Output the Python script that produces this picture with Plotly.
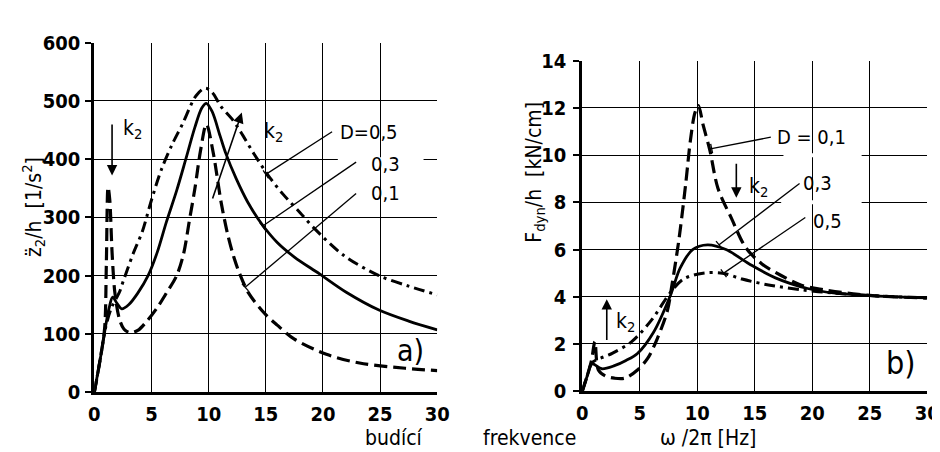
import plotly.graph_objects as go

# ---------------- data: panel a) acceleration z2''/h [1/s^2] ----------------
a_x_d01 = [0, 0.5, 0.9, 1.05, 1.2, 1.35, 1.55, 1.8, 2.2, 2.6, 3.1, 3.8, 4.6, 5.5, 6.3, 7.2, 7.8, 8.3, 8.8,
           9.3, 9.8, 10.4, 11.1, 11.7, 12.2, 12.7, 13.5, 14.9, 16.0, 17.5, 20.3, 23.2, 27.2, 30]
a_y_d01 = [0, 55, 110, 220, 352, 330, 240, 170, 125, 108, 102, 106, 122, 145, 170, 200, 237, 293, 350,
           416, 460, 411, 325, 268, 232, 204, 170, 135, 115, 91, 65, 50, 41, 37]

a_x_d03 = [0, 0.5, 1.0, 1.3, 1.6, 2.0, 2.4, 3.0, 3.8, 4.7, 5.5, 6.3, 7.2, 8.0, 8.8, 9.4, 9.8, 10.3,
           11.0, 11.5, 12.4, 13.4, 14.6, 16.0, 17.5, 19.7, 22.0, 24.9, 27.5, 30]
a_y_d03 = [0, 55, 115, 145, 163, 152, 143, 150, 170, 200, 240, 292, 346, 400, 455, 488, 496, 482,
           440, 410, 367, 327, 290, 257, 232, 203, 172, 141, 122, 107]

a_x_d05 = [0, 0.5, 1.0, 1.5, 2.2, 2.5, 3.4, 4.2, 5.0, 5.9, 6.8, 7.7, 8.9, 9.7, 10.3, 11.1, 12.0, 12.8,
           14.0, 15.4, 16.5, 18.0, 19.2, 21.8, 24.9, 27.5, 30]
a_y_d05 = [0, 55, 112, 145, 172, 189, 238, 276, 330, 384, 425, 460, 509, 522, 515, 490, 470, 447,
           408, 367, 340, 308, 282, 235, 200, 182, 167]

# ---------------- data: panel b) dynamic force F_dyn/h [kN/cm] ----------------
b_x_d01 = [0, 0.4, 0.8, 1.1, 1.4, 2.0, 2.8, 3.7, 4.8, 5.7, 6.5, 7.4, 7.8, 8.4, 9.0, 9.4, 9.8, 10.1,
           10.5, 11.1, 11.8, 13.0, 14.2, 15.6, 17.3, 19.0, 21.0, 24.0, 27.0, 30]
b_y_d01 = [0, 0.6, 1.3, 2.1, 0.9, 0.65, 0.55, 0.55, 0.9, 1.4, 2.2, 3.4, 4.5, 6.4, 8.8, 10.6, 11.8, 12.1,
           11.3, 10.2, 8.6, 7.3, 6.1, 5.4, 4.9, 4.5, 4.3, 4.1, 4.0, 3.95]

b_x_d03 = [0, 0.4, 0.85, 1.7, 2.8, 3.8, 4.8, 6.2, 7.7, 8.5, 9.6, 10.9, 12.5, 14.5, 16.8, 19.6, 22, 25, 30]
b_y_d03 = [0, 0.6, 1.15, 0.95, 1.08, 1.3, 1.6, 2.5, 4.1, 5.2, 6.0, 6.2, 6.0, 5.4, 4.8, 4.35, 4.15, 4.05, 3.95]

b_x_d05 = [0, 0.4, 0.85, 2.6, 4.3, 6.0, 7.7, 8.8, 10.5, 12.2, 13.9, 16.2, 19.0, 22, 25, 30]
b_y_d05 = [0, 0.6, 1.2, 1.6, 2.1, 3.0, 4.2, 4.75, 5.0, 5.0, 4.75, 4.5, 4.3, 4.15, 4.05, 3.95]

x_ticks = [0, 5, 10, 15, 20, 25, 30]
a_y_ticks = [0, 100, 200, 300, 400, 500, 600]
b_y_ticks = [0, 2, 4, 6, 8, 10, 12, 14]

FONT = "DejaVu Sans Condensed"
DASH = "13px,6px"
DASHDOT = "11px,5px,3px,5px"

W, H = 940, 452
A_DOM_X = [82 / W, 432 / W]
A_DOM_Y = [(H - 393) / H, (H - 24) / H]
B_DOM_X = [580 / W, 932 / W]
B_DOM_Y = [(H - 392) / H, (H - 43) / H]

fig = go.Figure()

def add_curve(x, y, style, xa, ya, width=3):
    fig.add_trace(go.Scatter(x=x, y=y, mode="lines", xaxis=xa, yaxis=ya,
                             line=dict(color="black", width=width, dash=style,
                                       shape="spline", smoothing=0.9),
                             hoverinfo="skip"))

add_curve(a_x_d01, a_y_d01, DASH, "x", "y", 3.2)
add_curve(a_x_d03, a_y_d03, "solid", "x", "y", 2.8)
add_curve(a_x_d05, a_y_d05, DASHDOT, "x", "y", 3.0)
add_curve(b_x_d01, b_y_d01, DASH, "x2", "y2", 3.2)
add_curve(b_x_d03, b_y_d03, "solid", "x2", "y2", 2.8)
add_curve(b_x_d05, b_y_d05, DASHDOT, "x2", "y2", 3.0)

axis_common = dict(showgrid=True, gridcolor="black", gridwidth=1.4, zeroline=False,
                   showline=True, linecolor="black", linewidth=3,
                   tickfont=dict(family=FONT, size=20, color="black", weight="bold"))

fig.update_layout(
    width=W, height=H, margin=dict(l=0, r=0, t=0, b=0),
    paper_bgcolor="white", plot_bgcolor="white", showlegend=False,
    xaxis=dict(domain=A_DOM_X, range=[0, 30], tickvals=x_ticks, anchor="y",
               ticks="", ticklabelstandoff=2, **axis_common),
    yaxis=dict(domain=A_DOM_Y, range=[0, 600], tickvals=a_y_ticks, anchor="x",
               ticks="outside", ticklen=6, tickwidth=2, tickcolor="black",
               ticklabelstandoff=1, **axis_common),
    xaxis2=dict(domain=B_DOM_X, range=[0, 30], tickvals=x_ticks, anchor="y2",
                ticks="", ticklabelstandoff=2, **axis_common),
    yaxis2=dict(domain=B_DOM_Y, range=[0, 14], tickvals=b_y_ticks, anchor="x2",
                ticks="outside", ticklen=6, tickwidth=2, tickcolor="black",
                ticklabelstandoff=3, **axis_common),
)

ann = []
shapes = []

def text(x, y, s, xr, yr, size=20, xanchor="center"):
    ann.append(dict(x=x, y=y, xref=xr, yref=yr, text=s, showarrow=False, xanchor=xanchor,
                    yanchor="middle", font=dict(family=FONT, size=size, color="black")))

def arrow(x0, y0, x1, y1, xr, yr):
    ann.append(dict(x=x1, y=y1, ax=x0, ay=y0, xref=xr, yref=yr, axref=xr, ayref=yr, text="",
                    showarrow=True, arrowhead=2, arrowsize=1.3, arrowwidth=1.6, arrowcolor="black"))

def leader(x0, y0, x1, y1, xr, yr, pxx, pxy):
    shapes.append(dict(type="line", xref=xr, yref=yr, x0=x0, y0=y0, x1=x1, y1=y1,
                       line=dict(color="black", width=1.3)))
    # short perpendicular tick at the curve end (pixel space)
    dx, dy = (x1 - x0) * pxx, (y1 - y0) * pxy
    n = (dx * dx + dy * dy) ** 0.5
    px, py = -dy / n * 5, dx / n * 5
    shapes.append(dict(type="line", xref=xr, yref=yr,
                       x0=x1 - px / pxx, y0=y1 - py / pxy, x1=x1 + px / pxx, y1=y1 + py / pxy,
                       line=dict(color="black", width=1.3)))

def grid_gap(x0, x1, y, xr, yr):
    # gridline interrupted beside the labels, as in the drawing
    shapes.append(dict(type="line", xref=xr, yref=yr, x0=x0, x1=x1, y0=y, y1=y, layer="above",
                       line=dict(color="white", width=4)))

# pixel scale factors
a_pxx = 350 / 30
a_pxy = 369 / 600
b_pxx = 352 / 30
b_pxy = 349 / 14

# gridline gaps first so leader lines are drawn over them
grid_gap(21.3, 28.8, 400, "x", "y")
grid_gap(17.5, 24.3, 10, "x2", "y2")
grid_gap(17.3, 24.3, 8, "x2", "y2")

# panel a annotations
arrow(1.55, 462, 1.55, 372, "x", "y")
text(3.3, 452, "k<sub>2</sub>", "x", "y", size=21)
arrow(10.3, 330, 12.9, 480, "x", "y")
text(15.7, 447, "k<sub>2</sub>", "x", "y", size=21)
text(21.3, 447, "D=0,5", "x", "y", xanchor="left")
text(24.0, 392, "0,3", "x", "y", xanchor="left")
text(24.0, 342, "0,1", "x", "y", xanchor="left")
leader(20.8, 447, 15.0, 374, "x", "y", a_pxx, a_pxy)
leader(22.9, 395, 14.7, 285, "x", "y", a_pxx, a_pxy)
leader(22.9, 341, 13.2, 180, "x", "y", a_pxx, a_pxy)
text(27.7, 72, "a)", "x", "y", size=30)

# panel b annotations
text(16.8, 10.76, "D = 0,1", "x2", "y2", xanchor="left")
leader(16.4, 10.76, 11.25, 10.28, "x2", "y2", b_pxx, b_pxy)
arrow(13.4, 9.7, 13.4, 8.2, "x2", "y2")
text(15.3, 8.65, "k<sub>2</sub>", "x2", "y2", size=21)
text(19.0, 8.8, "0,3", "x2", "y2", xanchor="left")
leader(18.9, 8.8, 11.9, 6.2, "x2", "y2", b_pxx, b_pxy)
text(19.9, 7.2, "0,5", "x2", "y2", xanchor="left")
leader(19.4, 7.36, 12.3, 5.0, "x2", "y2", b_pxx, b_pxy)
arrow(2.13, 2.1, 2.13, 3.9, "x2", "y2")
text(3.8, 2.95, "k<sub>2</sub>", "x2", "y2", size=21)
text(27.7, 1.2, "b)", "x2", "y2", size=32)

# axis titles
ann.append(dict(x=20 / W, y=(H - 198) / H, xref="paper", yref="paper", textangle=-90,
                xanchor="center", yanchor="middle",
                text="z\u0308<sub>2</sub>/h  [1/s<sup>2</sup>]", showarrow=False,
                font=dict(family=FONT, size=21, color="black")))
ann.append(dict(x=532 / W, y=(H - 161) / H, xref="paper", yref="paper", textangle=-90,
                xanchor="center", yanchor="middle",
                text="F<sub>dyn</sub>/h  [kN/cm]", showarrow=False,
                font=dict(family=FONT, size=21, color="black")))
for word, cx in [("budící", 388), ("frekvence", 526), ("\u03c9 /2\u03c0 [Hz]", 708)]:
    ann.append(dict(x=cx / W, y=(H - 441) / H, xref="paper", yref="paper", text=word,
                    xanchor="center", yanchor="middle",
                    showarrow=False, font=dict(family=FONT, size=21, color="black")))

fig.update_layout(annotations=ann, shapes=shapes)
fig.write_html("out.html")
